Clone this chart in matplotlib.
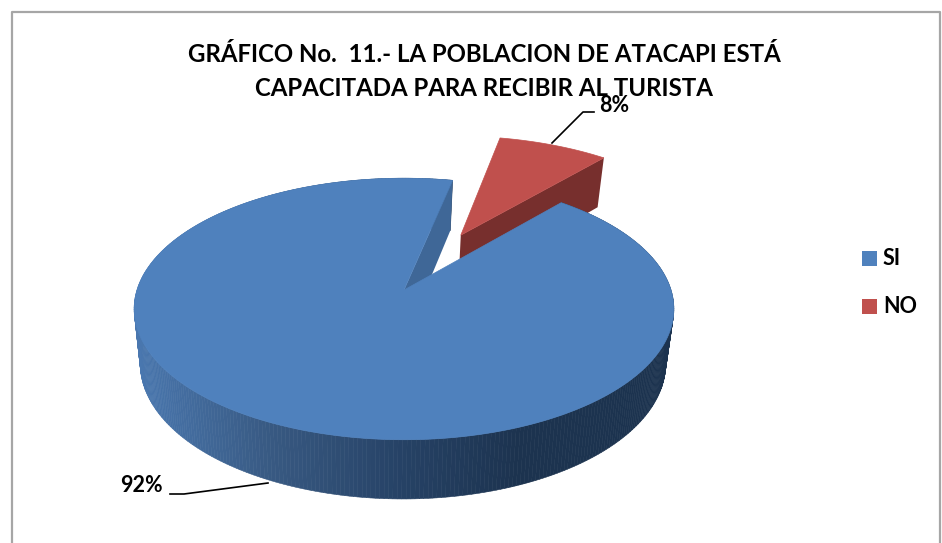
import matplotlib
matplotlib.use('Agg')
import matplotlib.pyplot as plt
import numpy as np
from matplotlib.patches import Polygon, Rectangle

plt.rcParams['font.family'] = ['Lato', 'DejaVu Sans']

# Data
categories = ['SI', 'NO']
percent = [92, 8]
point_labels = ['92%', '8%']
title_lines = ['GRÁFICO No.  11.- LA POBLACION DE ATACAPI ESTÁ',
               'CAPACITADA PARA RECIBIR AL TURISTA']

BLUE = '#4f81bd'
RED = '#c0504d'

# the NO slice starts 12 deg clockwise from the back of the pie
start = 12.0
explode = 0.51
persp = 0.145


# disc coords -> pixels, top face and bottom face have their own scale
def top_xy(u, v):
    w = 1 + persp * v
    return 404 + 267 * u / w, 290 - 128 * v / w


def bot_xy(u, v):
    w = 1 + persp * v
    return 403 + 260 * u / w, 344 - 132.5 * v / w


def arc(a0, a1, n=150):
    a = np.radians(np.linspace(a0, a1, n))
    return np.sin(a), np.cos(a)


def wall_color(x):
    stops_x = [132, 270, 400, 520, 680]
    stops = np.array([[0.29, 0.47, 0.69], [0.22, 0.35, 0.51], [0.15, 0.26, 0.40],
                      [0.11, 0.20, 0.31], [0.11, 0.20, 0.31]])
    return [np.interp(x, stops_x, stops[:, i]) for i in range(3)]


fig = plt.figure(figsize=(9.42, 5.43), dpi=100)
ax = fig.add_axes([0, 0, 1, 1])
ax.set_xlim(0, 942)
ax.set_ylim(543, 0)
ax.axis('off')

# chart frame
ax.plot([12, 12, 940, 940], [543, 12, 12, 543], color='#a6a6a6', lw=1.6, zorder=1)

sweep = [p / sum(percent) * 360 for p in percent]
no_end = start + sweep[1]
no_mid = np.radians(start + sweep[1] / 2)
du, dv = explode * np.sin(no_mid), explode * np.cos(no_mid)

# NO slice, moved out from the centre
eu, ev = np.sin(np.radians(no_end)) + du, np.cos(np.radians(no_end)) + dv
face = [top_xy(du, dv), top_xy(eu, ev), bot_xy(eu, ev), bot_xy(du, dv)]
ax.add_patch(Polygon(face, color='#772f2d', lw=0, zorder=2))
su, sv = arc(start, no_end)
pts = [top_xy(du, dv)] + list(zip(*top_xy(su + du, sv + dv)))
ax.add_patch(Polygon(pts, color=RED, lw=0.5, zorder=3))

# SI slice, side wall first then the notch face then the top
su, sv = arc(no_end, start + 360, 400)
tx, ty = top_xy(su, sv)
bx, by = bot_xy(su, sv)
for i in range(len(su) - 1):
    q = [(tx[i], ty[i]), (tx[i + 1], ty[i + 1]), (bx[i + 1], by[i + 1]), (bx[i], by[i])]
    c = wall_color((tx[i] + tx[i + 1]) / 2)
    ax.add_patch(Polygon(q, facecolor=c, edgecolor=c, lw=0.4, zorder=4))

eu, ev = np.sin(np.radians(start)), np.cos(np.radians(start))
face = [top_xy(0, 0), top_xy(eu, ev), bot_xy(eu, ev), bot_xy(0, 0)]
ax.add_patch(Polygon(face, color='#3f6797', lw=0, zorder=5))
pts = [top_xy(0, 0)] + list(zip(tx, ty))
ax.add_patch(Polygon(pts, color=BLUE, lw=0.5, zorder=6))

# title
ax.text(484, 54, title_lines[0], ha='center', va='center', fontsize=17.3, fontweight='bold', zorder=8)
ax.text(484, 88, title_lines[1], ha='center', va='center', fontsize=17.3, fontweight='bold', zorder=8)

# leader lines and labels
ax.plot([552, 583, 594], [143, 112, 112], color='black', lw=1.2, zorder=7)
ax.text(614, 105, point_labels[1], ha='center', va='center', fontsize=15.5, fontweight='bold', zorder=8)
ax.plot([170, 184, 268], [494, 494, 483], color='black', lw=1.2, zorder=7)
ax.text(141, 486, point_labels[0], ha='center', va='center', fontsize=15.5, fontweight='bold', zorder=8)

# legend
for name, col, y in zip(categories, [BLUE, RED], [258.5, 306.5]):
    ax.add_patch(Rectangle((862, y - 7.5), 15, 15, color=col, lw=0, zorder=8))
    ax.text(883, y, name, ha='left', va='center', fontsize=15.5, fontweight='bold', zorder=8)

fig.savefig('out.png', dpi=100)
